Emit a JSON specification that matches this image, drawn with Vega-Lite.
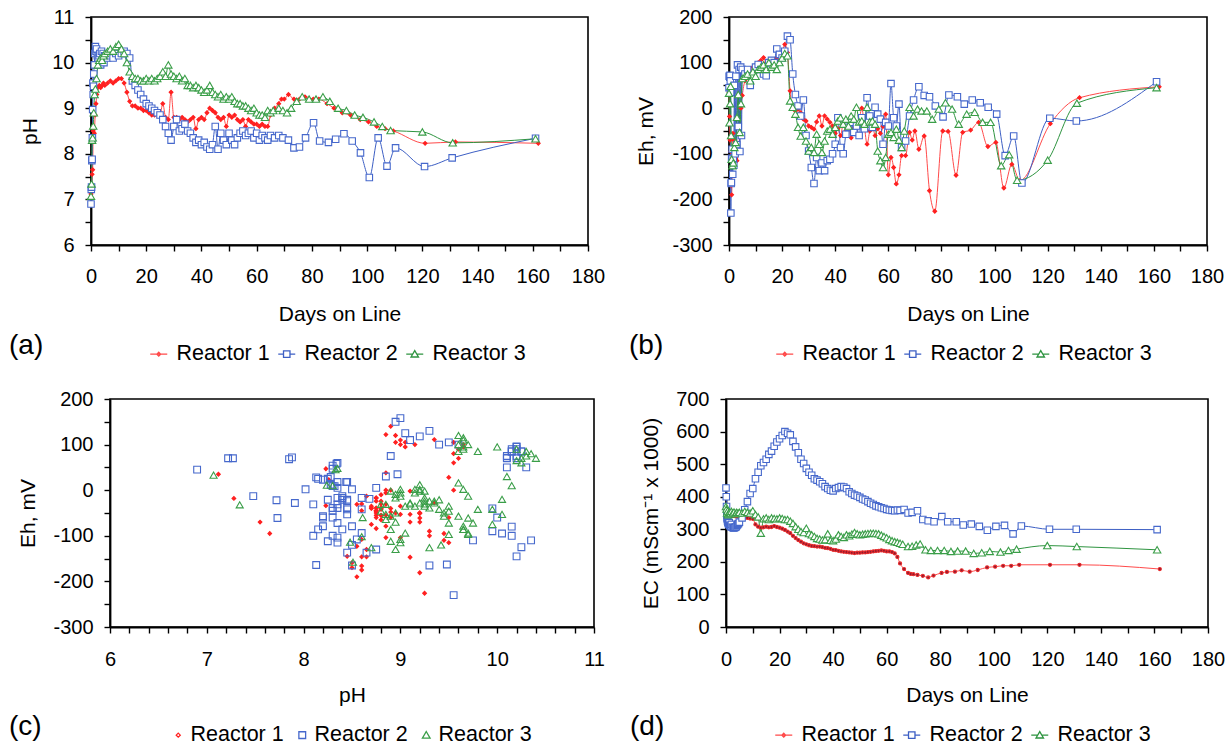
{
"$schema": "https://vega.github.io/schema/vega-lite/v6.json",
"background": "white",
"padding": {"left": 8, "top": 6, "right": 0, "bottom": 0},
"config": {
 "font": "Liberation Sans",
 "view": {"stroke": "black", "strokeWidth": 1.6},
 "axis": {"domainColor": "black", "domainWidth": 1.8, "tickColor": "black", "tickWidth": 1.4, "tickSize": 6, "grid": false, "labelFont": "Liberation Sans", "labelFontSize": 20, "labelColor": "black", "labelPadding": 11, "labelFlush": false, "labelOverlap": false, "titleFont": "Liberation Sans", "titleFontSize": 21, "titleFontWeight": "normal", "titleColor": "black", "titleBaseline": "alphabetic"},
 "axisX": {"labelPadding": 15},
 "legend": {"orient": "none", "direction": "horizontal", "titleOrient": "left", "titleAnchor": "middle", "titleBaseline": "alphabetic", "titleFont": "Liberation Sans", "titleFontSize": 28, "titleFontWeight": "normal", "titleColor": "black", "labelFont": "Liberation Sans", "labelFontSize": 21.5, "labelColor": "black", "padding": 0, "columnPadding": 5, "labelOffset": 7, "symbolStrokeWidth": 1.3, "symbolSize": 289, "labelLimit": 300}
},
"datasets": {"m": [
{"r":1,"d":0,"p":7.12,"e":35,"c":352},{"r":1,"d":0.2,"p":7.28,"e":-18,"c":350},{"r":1,"d":0.4,"p":7.55,"e":-70,"c":349},{"r":1,"d":0.6,"p":7.65,"e":-95,"c":348},{"r":1,"d":0.8,"p":8.5,"e":-170,"c":347},{"r":1,"d":1,"p":8.55,"e":-190,"c":346},{"r":1,"d":1.2,"p":8.45,"e":-145,"c":345},{"r":1,"d":1.5,"p":8.85,"e":-55,"c":345},{"r":1,"d":1.8,"p":9.1,"e":-70,"c":344},{"r":1,"d":2.1,"p":9.3,"e":-100,"c":343},{"r":1,"d":2.5,"p":9.45,"e":-110,"c":342},{"r":1,"d":3,"p":9.5,"e":-115,"c":341},{"r":1,"d":3.5,"p":9.45,"e":-95,"c":340},{"r":1,"d":4,"p":9.5,"e":-60,"c":340},{"r":1,"d":4.5,"p":9.55,"e":0,"c":339},{"r":1,"d":5,"p":9.5,"e":28,"c":339},
{"r":1,"d":6,"p":9.55,"e":60,"c":338},{"r":1,"d":7,"p":9.6,"e":70,"c":336},{"r":1,"d":8,"p":9.55,"e":80,"c":335},{"r":1,"d":9,"p":9.6,"e":90,"c":333},{"r":1,"d":10,"p":9.65,"e":95,"c":332},{"r":1,"d":11,"p":9.65,"e":100,"c":315},{"r":1,"d":12,"p":9.55,"e":105,"c":308},{"r":1,"d":13,"p":9.35,"e":111,"c":305},{"r":1,"d":14,"p":9.15,"e":100,"c":306},{"r":1,"d":15,"p":9.05,"e":105,"c":308},{"r":1,"d":16,"p":9.05,"e":95,"c":306},{"r":1,"d":17,"p":9.0,"e":100,"c":307},{"r":1,"d":18,"p":9.0,"e":110,"c":310},{"r":1,"d":19,"p":8.95,"e":105,"c":307},{"r":1,"d":20,"p":8.95,"e":120,"c":305},{"r":1,"d":21,"p":8.9,"e":140,"c":302},{"r":1,"d":22,"p":8.85,"e":122,"c":298},{"r":1,"d":23,"p":8.85,"e":38,"c":293},{"r":1,"d":24,"p":8.9,"e":0,"c":288},{"r":1,"d":25,"p":8.85,"e":-6,"c":280},{"r":1,"d":26,"p":9.1,"e":-2,"c":273},{"r":1,"d":27,"p":8.8,"e":-10,"c":267},{"r":1,"d":28,"p":8.75,"e":-24,"c":262},{"r":1,"d":29,"p":9.35,"e":-28,"c":257},{"r":1,"d":30,"p":8.8,"e":-39,"c":254},{"r":1,"d":31,"p":8.8,"e":-42,"c":251},{"r":1,"d":32,"p":8.75,"e":-46,"c":249},{"r":1,"d":33,"p":8.8,"e":-30,"c":248},{"r":1,"d":34,"p":8.75,"e":-17,"c":247},{"r":1,"d":35,"p":8.7,"e":-39,"c":247},{"r":1,"d":36,"p":8.75,"e":-17,"c":245},{"r":1,"d":37,"p":8.8,"e":-24,"c":243},{"r":1,"d":38,"p":8.55,"e":-31,"c":242},{"r":1,"d":39,"p":8.75,"e":-39,"c":240},{"r":1,"d":40,"p":8.8,"e":-55,"c":237},{"r":1,"d":41,"p":8.75,"e":-45,"c":236},{"r":1,"d":42,"p":8.9,"e":-60,"c":234},{"r":1,"d":43,"p":9.0,"e":-35,"c":232},{"r":1,"d":44,"p":8.95,"e":-50,"c":231},{"r":1,"d":45,"p":8.9,"e":-40,"c":230},{"r":1,"d":46,"p":8.8,"e":-65,"c":229},{"r":1,"d":47,"p":8.75,"e":-45,"c":228},{"r":1,"d":48,"p":8.8,"e":-55,"c":227},{"r":1,"d":49,"p":8.6,"e":-30,"c":228},{"r":1,"d":50,"p":8.85,"e":0,"c":228},{"r":1,"d":51,"p":8.8,"e":-40,"c":229},{"r":1,"d":52,"p":8.85,"e":-79,"c":229},{"r":1,"d":53,"p":8.75,"e":-50,"c":230},{"r":1,"d":54,"p":8.7,"e":-35,"c":231},{"r":1,"d":55,"p":8.75,"e":-60,"c":232},{"r":1,"d":56,"p":8.6,"e":-45,"c":233},{"r":1,"d":57,"p":8.75,"e":-55,"c":234},{"r":1,"d":58,"p":8.7,"e":-40,"c":235},{"r":1,"d":59,"p":8.65,"e":-13,"c":234},{"r":1,"d":60,"p":8.65,"e":-146,"c":232},{"r":1,"d":61,"p":8.6,"e":-108,"c":232},{"r":1,"d":62,"p":8.65,"e":-130,"c":230},{"r":1,"d":63,"p":8.6,"e":-166,"c":226},{"r":1,"d":64,"p":8.6,"e":-146,"c":215},{"r":1,"d":65,"p":8.85,"e":-104,"c":195},
{"r":1,"d":66.5,"p":9.0,"e":-104,"c":178},{"r":1,"d":68,"p":9.1,"e":-53,"c":166},{"r":1,"d":69,"p":9.2,"e":-70,"c":163},{"r":1,"d":70,"p":9.2,"e":-50,"c":162},{"r":1,"d":71.5,"p":9.3,"e":-90,"c":160},{"r":1,"d":73.5,"p":9.2,"e":-61,"c":157},{"r":1,"d":75.5,"p":9.2,"e":-181,"c":152},{"r":1,"d":77.5,"p":9.25,"e":-226,"c":158},{"r":1,"d":80.5,"p":9.2,"e":-50,"c":166},{"r":1,"d":82.5,"p":9.2,"e":-51,"c":169},{"r":1,"d":85.5,"p":9.1,"e":-147,"c":170},{"r":1,"d":88,"p":9.0,"e":-53,"c":174},{"r":1,"d":91,"p":8.9,"e":-48,"c":170},{"r":1,"d":94,"p":8.85,"e":-31,"c":175},{"r":1,"d":97.5,"p":8.75,"e":-84,"c":183},{"r":1,"d":100.5,"p":8.7,"e":-75,"c":185},{"r":1,"d":103.5,"p":8.6,"e":-175,"c":188},{"r":1,"d":106.5,"p":8.55,"e":-123,"c":188},{"r":1,"d":109.5,"p":8.5,"e":-159,"c":191},{"r":1,"d":121,"p":8.23,"e":-34,"c":191},{"r":1,"d":132,"p":8.26,"e":23,"c":191},{"r":1,"d":162,"p":8.23,"e":47,"c":178},
{"r":2,"d":0,"p":6.9,"e":45,"c":427},{"r":2,"d":0.1,"p":7.22,"e":70,"c":400},{"r":2,"d":0.2,"p":7.27,"e":70,"c":370},{"r":2,"d":0.3,"p":7.85,"e":68,"c":345},{"r":2,"d":0.4,"p":7.88,"e":72,"c":335},{"r":2,"d":0.5,"p":8.35,"e":60,"c":330},{"r":2,"d":0.6,"p":8.97,"e":35,"c":325},{"r":2,"d":0.7,"p":9.55,"e":-230,"c":322},{"r":2,"d":0.8,"p":9.3,"e":-165,"c":320},{"r":2,"d":0.9,"p":9.48,"e":-163,"c":318},{"r":2,"d":1,"p":9.75,"e":-110,"c":315},{"r":2,"d":1.2,"p":9.95,"e":-90,"c":320},{"r":2,"d":1.4,"p":10.2,"e":-145,"c":312},{"r":2,"d":1.6,"p":10.35,"e":-110,"c":310},{"r":2,"d":1.8,"p":10.25,"e":-125,"c":308},{"r":2,"d":2,"p":10.3,"e":50,"c":315},{"r":2,"d":2.3,"p":10.15,"e":-100,"c":306},{"r":2,"d":2.6,"p":10.1,"e":70,"c":305},{"r":2,"d":2.9,"p":10.15,"e":-80,"c":304},{"r":2,"d":3.2,"p":10.2,"e":95,"c":305},{"r":2,"d":3.5,"p":9.95,"e":-40,"c":306},{"r":2,"d":3.8,"p":10.25,"e":85,"c":308},{"r":2,"d":4.1,"p":10.05,"e":-95,"c":312},{"r":2,"d":4.4,"p":10.2,"e":90,"c":315},{"r":2,"d":4.7,"p":10.0,"e":-60,"c":318},
{"r":2,"d":5,"p":10.15,"e":85,"c":322},{"r":2,"d":6,"p":10.1,"e":75,"c":335},{"r":2,"d":7,"p":10.15,"e":85,"c":360},{"r":2,"d":8,"p":10.1,"e":50,"c":385},{"r":2,"d":9,"p":10.2,"e":70,"c":410},{"r":2,"d":10,"p":10.15,"e":90,"c":425},{"r":2,"d":11,"p":10.2,"e":96,"c":455},{"r":2,"d":12,"p":10.25,"e":85,"c":475},{"r":2,"d":13,"p":10.2,"e":75,"c":495},{"r":2,"d":14,"p":10.1,"e":71,"c":505},{"r":2,"d":15,"p":9.6,"e":100,"c":515},{"r":2,"d":16,"p":9.5,"e":105,"c":530},{"r":2,"d":17,"p":9.4,"e":100,"c":540},{"r":2,"d":18,"p":9.3,"e":130,"c":555},{"r":2,"d":19,"p":9.2,"e":118,"c":568},{"r":2,"d":20,"p":9.1,"e":110,"c":578},{"r":2,"d":21,"p":9.05,"e":125,"c":588},{"r":2,"d":22,"p":9.0,"e":158,"c":600},{"r":2,"d":23,"p":8.95,"e":150,"c":595},{"r":2,"d":24,"p":8.9,"e":75,"c":590},{"r":2,"d":25,"p":8.85,"e":30,"c":570},{"r":2,"d":26,"p":8.75,"e":5,"c":553},{"r":2,"d":27,"p":8.6,"e":-17,"c":535},{"r":2,"d":28,"p":8.45,"e":18,"c":515},{"r":2,"d":29,"p":8.3,"e":-60,"c":502},{"r":2,"d":30,"p":8.6,"e":-94,"c":487},{"r":2,"d":31,"p":8.75,"e":-130,"c":475},{"r":2,"d":32,"p":8.5,"e":-165,"c":466},{"r":2,"d":33,"p":8.55,"e":-108,"c":455},{"r":2,"d":34,"p":8.65,"e":-137,"c":451},{"r":2,"d":35,"p":8.5,"e":-120,"c":446},{"r":2,"d":36,"p":8.45,"e":-137,"c":440},{"r":2,"d":37,"p":8.35,"e":-115,"c":431},{"r":2,"d":38,"p":8.25,"e":-112,"c":425},{"r":2,"d":39,"p":8.3,"e":-100,"c":420},{"r":2,"d":40,"p":8.2,"e":-79,"c":418},{"r":2,"d":41,"p":8.25,"e":-21,"c":425},{"r":2,"d":42,"p":8.15,"e":-86,"c":428},{"r":2,"d":43,"p":8.1,"e":-100,"c":431},{"r":2,"d":44,"p":8.2,"e":-57,"c":430},{"r":2,"d":45,"p":8.6,"e":-42,"c":425},{"r":2,"d":46,"p":8.1,"e":-31,"c":415},{"r":2,"d":47,"p":8.45,"e":-53,"c":410},{"r":2,"d":48,"p":8.3,"e":-39,"c":405},{"r":2,"d":49,"p":8.2,"e":-60,"c":402},{"r":2,"d":50,"p":8.45,"e":-21,"c":398},{"r":2,"d":51,"p":8.3,"e":-45,"c":393},{"r":2,"d":52,"p":8.2,"e":23,"c":390},{"r":2,"d":53,"p":8.35,"e":-17,"c":385},{"r":2,"d":54,"p":8.45,"e":-42,"c":380},{"r":2,"d":55,"p":8.5,"e":2,"c":376},{"r":2,"d":56,"p":8.4,"e":-13,"c":372},{"r":2,"d":57,"p":8.45,"e":-24,"c":369},{"r":2,"d":58,"p":8.5,"e":-79,"c":366},{"r":2,"d":59,"p":8.35,"e":-31,"c":364},{"r":2,"d":60,"p":8.45,"e":-39,"c":361},{"r":2,"d":61,"p":8.3,"e":54,"c":359},{"r":2,"d":62,"p":8.4,"e":-21,"c":358},{"r":2,"d":63,"p":8.35,"e":-39,"c":357},{"r":2,"d":64,"p":8.3,"e":9,"c":359},{"r":2,"d":65,"p":8.4,"e":-86,"c":358},
{"r":2,"d":66.5,"p":8.35,"e":-72,"c":361},{"r":2,"d":68,"p":8.4,"e":-17,"c":350},{"r":2,"d":69.5,"p":8.35,"e":18,"c":352},{"r":2,"d":71.5,"p":8.3,"e":47,"c":357},{"r":2,"d":73.5,"p":8.13,"e":28,"c":330},{"r":2,"d":75.5,"p":8.15,"e":25,"c":326},{"r":2,"d":77.7,"p":8.35,"e":5,"c":323},{"r":2,"d":80.6,"p":8.68,"e":-19,"c":339},{"r":2,"d":82.8,"p":8.28,"e":29,"c":323},{"r":2,"d":86,"p":8.25,"e":25,"c":323},{"r":2,"d":88.6,"p":8.32,"e":9,"c":313},{"r":2,"d":91.6,"p":8.44,"e":18,"c":316},{"r":2,"d":94.6,"p":8.28,"e":12,"c":309},{"r":2,"d":97.6,"p":8.02,"e":2,"c":297},{"r":2,"d":100.8,"p":7.48,"e":-13,"c":309},{"r":2,"d":104,"p":8.35,"e":-104,"c":312},{"r":2,"d":107.2,"p":7.73,"e":-61,"c":286},{"r":2,"d":110.3,"p":8.13,"e":-164,"c":310},{"r":2,"d":120.8,"p":7.72,"e":-22,"c":300},{"r":2,"d":130.8,"p":7.91,"e":-28,"c":300},{"r":2,"d":161,"p":8.34,"e":58,"c":299},
{"r":3,"d":0,"p":7.07,"e":33,"c":370},{"r":3,"d":0.2,"p":7.34,"e":-32,"c":362},{"r":3,"d":0.4,"p":8.3,"e":10,"c":350},{"r":3,"d":0.6,"p":8.35,"e":48,"c":356},{"r":3,"d":0.8,"p":8.61,"e":-60,"c":345},{"r":3,"d":1,"p":8.9,"e":-112,"c":350},{"r":3,"d":1.3,"p":9.3,"e":-126,"c":352},{"r":3,"d":1.6,"p":9.42,"e":-120,"c":348},{"r":3,"d":2,"p":9.65,"e":-86,"c":355},{"r":3,"d":2.5,"p":9.95,"e":-75,"c":350},{"r":3,"d":3,"p":10.05,"e":-20,"c":353},{"r":3,"d":3.5,"p":10.1,"e":30,"c":348},{"r":3,"d":4,"p":10.05,"e":-53,"c":352},{"r":3,"d":4.5,"p":10.15,"e":10,"c":350},{"r":3,"d":5,"p":10.2,"e":65,"c":352},
{"r":3,"d":6,"p":10.25,"e":70,"c":350},{"r":3,"d":7,"p":10.3,"e":75,"c":355},{"r":3,"d":8,"p":10.25,"e":60,"c":352},{"r":3,"d":9,"p":10.35,"e":80,"c":350},{"r":3,"d":10,"p":10.4,"e":70,"c":357},{"r":3,"d":11,"p":10.3,"e":85,"c":345},{"r":3,"d":12,"p":10.2,"e":90,"c":338},{"r":3,"d":13,"p":10.0,"e":95,"c":288},{"r":3,"d":14,"p":9.8,"e":85,"c":332},{"r":3,"d":15,"p":9.7,"e":100,"c":335},{"r":3,"d":16,"p":9.65,"e":90,"c":330},{"r":3,"d":17,"p":9.65,"e":95,"c":335},{"r":3,"d":18,"p":9.6,"e":85,"c":333},{"r":3,"d":19,"p":9.6,"e":100,"c":332},{"r":3,"d":20,"p":9.65,"e":110,"c":335},{"r":3,"d":21,"p":9.6,"e":120,"c":333},{"r":3,"d":22,"p":9.65,"e":115,"c":330},{"r":3,"d":23,"p":9.6,"e":16,"c":330},{"r":3,"d":24,"p":9.65,"e":2,"c":325},{"r":3,"d":25,"p":9.7,"e":-13,"c":318},{"r":3,"d":26,"p":9.8,"e":-42,"c":308},{"r":3,"d":27,"p":9.7,"e":-61,"c":300},{"r":3,"d":28,"p":9.95,"e":-42,"c":293},{"r":3,"d":29,"p":9.75,"e":-72,"c":290},{"r":3,"d":30,"p":9.7,"e":-94,"c":303},{"r":3,"d":31,"p":9.65,"e":-86,"c":287},{"r":3,"d":32,"p":9.7,"e":-97,"c":283},{"r":3,"d":33,"p":9.6,"e":-57,"c":278},{"r":3,"d":34,"p":9.65,"e":-79,"c":272},{"r":3,"d":35,"p":9.5,"e":-97,"c":270},{"r":3,"d":36,"p":9.5,"e":-72,"c":267},{"r":3,"d":37,"p":9.45,"e":-50,"c":268},{"r":3,"d":38,"p":9.5,"e":-46,"c":286},{"r":3,"d":39,"p":9.45,"e":-57,"c":266},{"r":3,"d":40,"p":9.4,"e":-42,"c":265},{"r":3,"d":41,"p":9.35,"e":-28,"c":270},{"r":3,"d":42,"p":9.4,"e":-21,"c":283},{"r":3,"d":43,"p":9.5,"e":-35,"c":278},{"r":3,"d":44,"p":9.35,"e":-24,"c":275},{"r":3,"d":45,"p":9.3,"e":-39,"c":283},{"r":3,"d":46,"p":9.25,"e":-17,"c":280},{"r":3,"d":47,"p":9.3,"e":-24,"c":285},{"r":3,"d":48,"p":9.2,"e":2,"c":290},{"r":3,"d":49,"p":9.25,"e":-30,"c":286},{"r":3,"d":50,"p":9.2,"e":-28,"c":283},{"r":3,"d":51,"p":9.25,"e":-35,"c":285},{"r":3,"d":52,"p":9.15,"e":2,"c":286},{"r":3,"d":53,"p":9.1,"e":-30,"c":287},{"r":3,"d":54,"p":9.1,"e":-28,"c":288},{"r":3,"d":55,"p":9.05,"e":-35,"c":288},{"r":3,"d":56,"p":9.05,"e":-94,"c":287},{"r":3,"d":57,"p":9.0,"e":-115,"c":286},{"r":3,"d":58,"p":8.95,"e":-130,"c":282},{"r":3,"d":59,"p":9.0,"e":-108,"c":278},{"r":3,"d":60,"p":8.9,"e":-57,"c":274},{"r":3,"d":61,"p":8.85,"e":-53,"c":269},{"r":3,"d":62,"p":8.85,"e":-64,"c":265},{"r":3,"d":63,"p":8.8,"e":-46,"c":262},{"r":3,"d":64,"p":8.95,"e":-70,"c":260},{"r":3,"d":65,"p":8.9,"e":-86,"c":257},{"r":3,"d":66,"p":8.95,"e":-50,"c":254},
{"r":3,"d":68,"p":9.0,"e":2,"c":247},{"r":3,"d":69.5,"p":8.95,"e":-17,"c":248},{"r":3,"d":71,"p":8.9,"e":-2,"c":252},{"r":3,"d":72.5,"p":9.0,"e":-6,"c":255},{"r":3,"d":74.5,"p":9.15,"e":-6,"c":237},{"r":3,"d":76.5,"p":9.25,"e":-24,"c":235},{"r":3,"d":79,"p":9.2,"e":-2,"c":235},{"r":3,"d":81.5,"p":9.2,"e":12,"c":235},{"r":3,"d":84,"p":9.25,"e":-2,"c":232},{"r":3,"d":86.5,"p":9.15,"e":-35,"c":233},{"r":3,"d":89.5,"p":9.0,"e":-13,"c":233},{"r":3,"d":92.5,"p":8.95,"e":-9,"c":226},{"r":3,"d":95.5,"p":8.85,"e":-31,"c":228},{"r":3,"d":98.5,"p":8.8,"e":-31,"c":232},{"r":3,"d":102.5,"p":8.7,"e":-126,"c":230},{"r":3,"d":105.5,"p":8.6,"e":-102,"c":235},{"r":3,"d":108.5,"p":8.51,"e":-158,"c":239},{"r":3,"d":120,"p":8.48,"e":-114,"c":250},{"r":3,"d":131,"p":8.24,"e":11,"c":247},{"r":3,"d":161,"p":8.33,"e":45,"c":237}
]},
"data": {"name": "m"},
"spacing": 22,
"resolve": {"scale": {"color": "independent", "shape": "independent"}, "legend": {"color": "independent", "shape": "independent"}},
"vconcat": [
 {"bounds": "flush", "spacing": 141,
  "resolve": {"scale": {"color": "independent", "shape": "independent"}, "legend": {"color": "independent", "shape": "independent"}},
  "hconcat": [
  {"width": 497, "height": 228,
   "encoding": {
    "x": {"field": "d", "type": "quantitative", "scale": {"domain": [0, 180], "nice": false}, "axis": {"values": [0,10,20,30,40,50,60,70,80,90,100,110,120,130,140,150,160,170,180], "labelExpr": "datum.value % 20 === 0 ? '' + datum.value : ''", "title": "Days on Line", "titleY": 75.5}},
    "y": {"field": "p", "type": "quantitative", "scale": {"domain": [6, 11], "nice": false, "zero": false}, "axis": {"values": [6,6.5,7,7.5,8,8.5,9,9.5,10,10.5,11], "labelExpr": "datum.value % 1 === 0 ? '' + datum.value : ''", "title": "pH", "titleX": -54.4}}
   },
   "layer": [
    {"transform": [{"filter": "false"}],
     "mark": {"type": "point", "filled": false, "opacity": 1},
     "encoding": {
      "color": {"field": "r", "type": "nominal", "scale": {"domain": [1,2,3], "range": ["#ff4a4a","#3d5fc4","#2e9440"]}, "legend": {"title": "(a)", "legendX": -82, "legendY": 326, "titlePadding": 104, "columnPadding": 5, "labelExpr": "'Reactor ' + datum.label"}},
      "shape": {"field": "r", "type": "nominal", "scale": {"domain": [1,2,3], "range": ["M-1,0H1M0,-0.22L0.22,0L0,0.22L-0.22,0Z", "M-1,0H-0.38M0.38,0H1M-0.38,-0.38H0.38V0.38H-0.38Z", "M-1,0H-0.24M0.24,0H1M0,-0.42L0.44,0.34H-0.44Z"]}, "legend": {"title": "(a)", "legendX": -82, "legendY": 326, "titlePadding": 104, "columnPadding": 5, "labelExpr": "'Reactor ' + datum.label"}}}},
    {"mark": {"type": "line", "strokeWidth": 1, "interpolate": "monotone"},
     "encoding": {"color": {"field": "r", "type": "nominal", "scale": {"domain": [1,2,3], "range": ["#ff4a4a","#3d5fc4","#2e9440"]}}}},
    {"mark": {"type": "point", "filled": true, "opacity": 1, "strokeWidth": 1.1},
     "encoding": {
      "shape": {"condition": [{"test": "datum.r === 1", "value": "diamond"}, {"test": "datum.r === 2", "value": "square"}], "value": "triangle-up"},
      "stroke": {"condition": [{"test": "datum.r === 1", "value": "#ff2020"}, {"test": "datum.r === 2", "value": "#4668cc"}], "value": "#3a9e48"},
      "fill": {"condition": {"test": "datum.r === 1", "value": "#ff2020"}, "value": "white"},
      "size": {"condition": [{"test": "datum.r === 1", "value": 14}, {"test": "datum.r === 2", "value": 42}], "value": 55}}}
   ]},
  {"width": 478, "height": 228,
   "encoding": {
    "x": {"field": "d", "type": "quantitative", "scale": {"domain": [0, 180], "nice": false}, "axis": {"values": [0,10,20,30,40,50,60,70,80,90,100,110,120,130,140,150,160,170,180], "labelExpr": "datum.value % 20 === 0 ? '' + datum.value : ''", "title": "Days on Line", "titleY": 75.5}},
    "y": {"field": "e", "type": "quantitative", "scale": {"domain": [-300, 200], "nice": false}, "axis": {"values": [-300,-250,-200,-150,-100,-50,0,50,100,150,200], "labelExpr": "datum.value % 100 === 0 ? '' + datum.value : ''", "title": "Eh, mV", "titleX": -76.3}}
   },
   "layer": [
    {"transform": [{"filter": "false"}],
     "mark": {"type": "point", "filled": false, "opacity": 1},
     "encoding": {
      "color": {"field": "r", "type": "nominal", "scale": {"domain": [1,2,3], "range": ["#ff4a4a","#3d5fc4","#2e9440"]}, "legend": {"title": "(b)", "legendX": -100, "legendY": 326, "titlePadding": 110, "columnPadding": 5, "labelExpr": "'Reactor ' + datum.label"}},
      "shape": {"field": "r", "type": "nominal", "scale": {"domain": [1,2,3], "range": ["M-1,0H1M0,-0.22L0.22,0L0,0.22L-0.22,0Z", "M-1,0H-0.38M0.38,0H1M-0.38,-0.38H0.38V0.38H-0.38Z", "M-1,0H-0.24M0.24,0H1M0,-0.42L0.44,0.34H-0.44Z"]}, "legend": {"title": "(b)", "legendX": -100, "legendY": 326, "titlePadding": 110, "columnPadding": 5, "labelExpr": "'Reactor ' + datum.label"}}}},
    {"mark": {"type": "line", "strokeWidth": 1, "interpolate": "monotone"},
     "encoding": {"color": {"field": "r", "type": "nominal", "scale": {"domain": [1,2,3], "range": ["#ff4a4a","#3d5fc4","#2e9440"]}}}},
    {"mark": {"type": "point", "filled": true, "opacity": 1, "strokeWidth": 1.1},
     "encoding": {
      "shape": {"condition": [{"test": "datum.r === 1", "value": "diamond"}, {"test": "datum.r === 2", "value": "square"}], "value": "triangle-up"},
      "stroke": {"condition": [{"test": "datum.r === 1", "value": "#ff2020"}, {"test": "datum.r === 2", "value": "#4668cc"}], "value": "#3a9e48"},
      "fill": {"condition": {"test": "datum.r === 1", "value": "#ff2020"}, "value": "white"},
      "size": {"condition": [{"test": "datum.r === 1", "value": 14}, {"test": "datum.r === 2", "value": 42}], "value": 55}}}
   ]}
 ]},
 {"bounds": "flush", "spacing": 0,
  "resolve": {"scale": {"color": "independent", "shape": "independent"}, "legend": {"color": "independent", "shape": "independent"}},
  "hconcat": [
  {"width": 19, "height": 10, "view": {"stroke": null}, "data": {"values": [{"k": 0}]}, "mark": {"type": "point", "opacity": 0}, "encoding": {}},
  {"bounds": "flush", "spacing": 132,
   "resolve": {"scale": {"color": "independent", "shape": "independent"}, "legend": {"color": "independent", "shape": "independent"}},
   "hconcat": [
   {"width": 484, "height": 228,
    "encoding": {
     "x": {"field": "p", "type": "quantitative", "scale": {"domain": [6, 11], "nice": false, "zero": false}, "axis": {"values": [6,6.2,6.4,6.6,6.8,7,7.2,7.4,7.6,7.8,8,8.2,8.4,8.6,8.8,9,9.2,9.4,9.6,9.8,10,10.2,10.4,10.6,10.8,11], "labelExpr": "abs(datum.value - round(datum.value)) < 0.01 ? '' + round(datum.value) : ''", "title": "pH", "titleY": 74, "labelPadding": 16}},
     "y": {"field": "e", "type": "quantitative", "scale": {"domain": [-300, 200], "nice": false}, "axis": {"values": [-300,-250,-200,-150,-100,-50,0,50,100,150,200], "labelExpr": "datum.value % 100 === 0 ? '' + datum.value : ''", "title": "Eh, mV", "titleX": -75.2}}
    },
    "layer": [
     {"transform": [{"filter": "false"}],
      "mark": {"type": "point", "filled": false, "opacity": 1},
      "encoding": {
       "color": {"field": "r", "type": "nominal", "scale": {"domain": [1,2,3], "range": ["#ff2020","#4668cc","#3a9e48"]}, "legend": {"title": "(c)", "legendX": -101, "legendY": 325, "titlePadding": 125.5, "symbolSize": 81, "columnPadding": 7, "labelOffset": 1.5, "labelExpr": "'Reactor ' + datum.label"}},
       "shape": {"field": "r", "type": "nominal", "scale": {"domain": [1,2,3], "range": ["M0,-0.45L0.45,0L0,0.45L-0.45,0Z", "M-0.75,-0.75H0.75V0.75H-0.75Z", "M0,-0.8L0.85,0.65H-0.85Z"]}, "legend": {"title": "(c)", "legendX": -101, "legendY": 325, "titlePadding": 125.5, "symbolSize": 81, "columnPadding": 7, "labelOffset": 1.5, "labelExpr": "'Reactor ' + datum.label"}}}},
     {"mark": {"type": "point", "filled": true, "opacity": 1, "strokeWidth": 1.1},
      "encoding": {
       "shape": {"condition": [{"test": "datum.r === 1", "value": "diamond"}, {"test": "datum.r === 2", "value": "square"}], "value": "triangle-up"},
       "stroke": {"condition": [{"test": "datum.r === 1", "value": "#ff2020"}, {"test": "datum.r === 2", "value": "#4668cc"}], "value": "#3a9e48"},
       "fill": {"condition": {"test": "datum.r === 1", "value": "#ff2020"}, "value": "transparent"},
       "size": {"condition": [{"test": "datum.r === 1", "value": 14}, {"test": "datum.r === 2", "value": 46}], "value": 50}}}
    ]},
   {"width": 482, "height": 228,
    "encoding": {
     "x": {"field": "d", "type": "quantitative", "scale": {"domain": [0, 180], "nice": false}, "axis": {"values": [0,10,20,30,40,50,60,70,80,90,100,110,120,130,140,150,160,170,180], "labelExpr": "datum.value % 20 === 0 ? '' + datum.value : ''", "title": "Days on Line", "titleY": 74, "labelPadding": 16}},
     "y": {"field": "c", "type": "quantitative", "scale": {"domain": [0, 700], "nice": false}, "axis": {"values": [0,100,200,300,400,500,600,700], "title": "EC (mScm⁻¹ x 1000)", "titleX": -69}}
    },
    "layer": [
     {"transform": [{"filter": "false"}],
      "mark": {"type": "point", "filled": false, "opacity": 1},
      "encoding": {
       "color": {"field": "r", "type": "nominal", "scale": {"domain": [1,2,3], "range": ["#ff4a4a","#3d5fc4","#2e9440"]}, "legend": {"title": "(d)", "legendX": -96, "legendY": 325, "titlePadding": 108, "columnPadding": 5, "labelExpr": "'Reactor ' + datum.label"}},
       "shape": {"field": "r", "type": "nominal", "scale": {"domain": [1,2,3], "range": ["M-1,0H1M0,-0.22L0.22,0L0,0.22L-0.22,0Z", "M-1,0H-0.38M0.38,0H1M-0.38,-0.38H0.38V0.38H-0.38Z", "M-1,0H-0.24M0.24,0H1M0,-0.42L0.44,0.34H-0.44Z"]}, "legend": {"title": "(d)", "legendX": -96, "legendY": 325, "titlePadding": 108, "columnPadding": 5, "labelExpr": "'Reactor ' + datum.label"}}}},
     {"mark": {"type": "line", "strokeWidth": 1, "interpolate": "monotone"},
      "encoding": {"color": {"field": "r", "type": "nominal", "scale": {"domain": [1,2,3], "range": ["#ff4a4a","#3d5fc4","#2e9440"]}}}},
     {"mark": {"type": "point", "filled": true, "opacity": 1, "strokeWidth": 1.1},
      "encoding": {
       "shape": {"condition": [{"test": "datum.r === 1", "value": "circle"}, {"test": "datum.r === 2", "value": "square"}], "value": "triangle-up"},
       "stroke": {"condition": [{"test": "datum.r === 1", "value": "#e82a2a"}, {"test": "datum.r === 2", "value": "#4668cc"}], "value": "#3a9e48"},
       "fill": {"condition": {"test": "datum.r === 1", "value": "#8e1a30"}, "value": "white"},
       "size": {"condition": [{"test": "datum.r === 1", "value": 10}, {"test": "datum.r === 2", "value": 42}], "value": 55}}}
    ]}
  ]}
 ]}
]
}
